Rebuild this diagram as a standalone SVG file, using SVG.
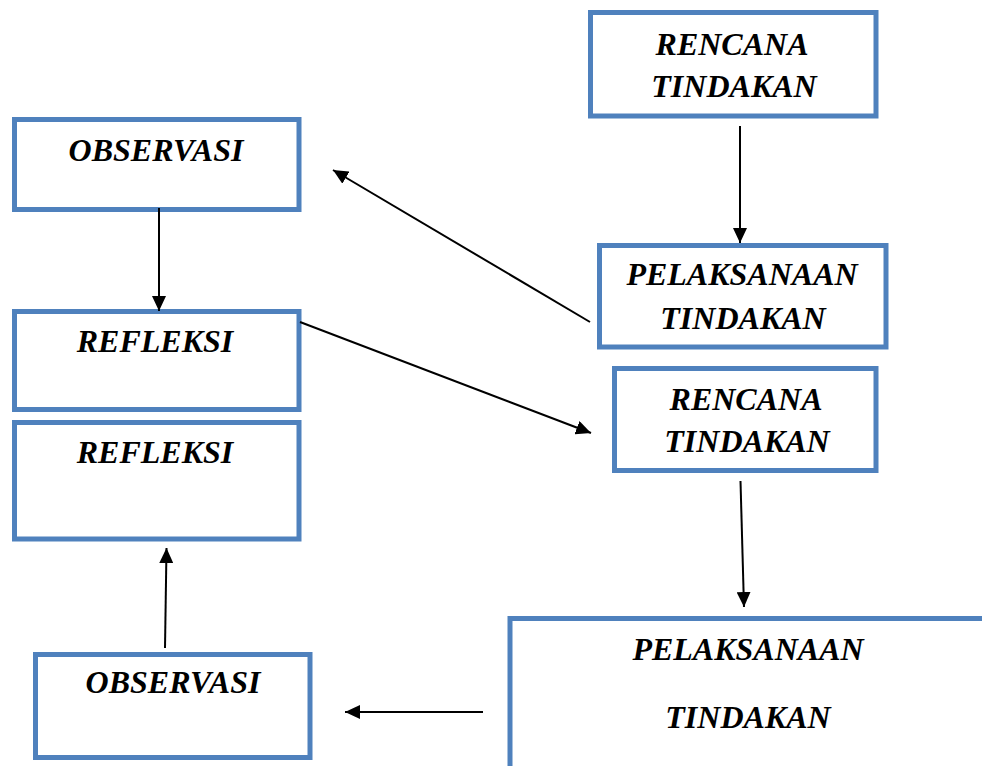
<svg xmlns="http://www.w3.org/2000/svg" width="982" height="766" viewBox="0 0 982 766">
<style>
.box{fill:#ffffff;stroke:#4f81bd;stroke-width:5}
.t{font-family:"Liberation Serif","Times New Roman",serif;font-weight:bold;font-style:italic;font-size:32px;fill:#000;text-anchor:middle}
.c{stroke:#000;stroke-width:2;fill:none;marker-end:url(#ah)}
</style>
<defs>
<marker id="ah" markerUnits="userSpaceOnUse" markerWidth="16" markerHeight="14" refX="15" refY="7" orient="auto">
<path d="M0,0 L15,7 L0,14 Z" fill="#000"/>
</marker>
</defs>
<rect width="982" height="766" fill="#ffffff"/>
<g id="rencana1">
<rect class="box" x="590.5" y="12.5" width="285.5" height="103.5"/>
<text class="t" x="732" y="55">RENCANA</text>
<text class="t" x="734" y="97">TINDAKAN</text>
</g>
<g id="observasi1">
<rect class="box" x="14.5" y="119.5" width="284.5" height="90"/>
<text class="t" x="156" y="161">OBSERVASI</text>
</g>
<g id="pelaksanaan1">
<rect class="box" x="599.5" y="245.5" width="286.5" height="101.5"/>
<text class="t" x="742" y="285">PELAKSANAAN</text>
<text class="t" x="743" y="329">TINDAKAN</text>
</g>
<g id="refleksi1">
<rect class="box" x="14.5" y="311.5" width="284.5" height="98"/>
<text class="t" x="155" y="352">REFLEKSI</text>
</g>
<g id="rencana2">
<rect class="box" x="614.5" y="368.5" width="261.5" height="102"/>
<text class="t" x="746" y="410">RENCANA</text>
<text class="t" x="747" y="452">TINDAKAN</text>
</g>
<g id="refleksi2">
<rect class="box" x="14.5" y="422.5" width="284.5" height="116.5"/>
<text class="t" x="155" y="463">REFLEKSI</text>
</g>
<g id="pelaksanaan2">
<rect class="box" x="510" y="618.5" width="480" height="160"/>
<text class="t" x="748" y="660">PELAKSANAAN</text>
<text class="t" x="748" y="728">TINDAKAN</text>
</g>
<g id="observasi2">
<rect class="box" x="35.5" y="654.5" width="274.5" height="103"/>
<text class="t" x="173" y="693">OBSERVASI</text>
</g>
<g id="connectors">
<line class="c" x1="740" y1="126" x2="740" y2="243"/>
<line class="c" x1="590" y1="322" x2="333" y2="170"/>
<line class="c" x1="159" y1="208" x2="159" y2="311"/>
<line class="c" x1="300" y1="322" x2="591" y2="433"/>
<line class="c" x1="740.5" y1="481" x2="744" y2="607"/>
<line class="c" x1="483" y1="712" x2="345" y2="712"/>
<line class="c" x1="165" y1="648" x2="166.5" y2="548"/>
</g>
</svg>
